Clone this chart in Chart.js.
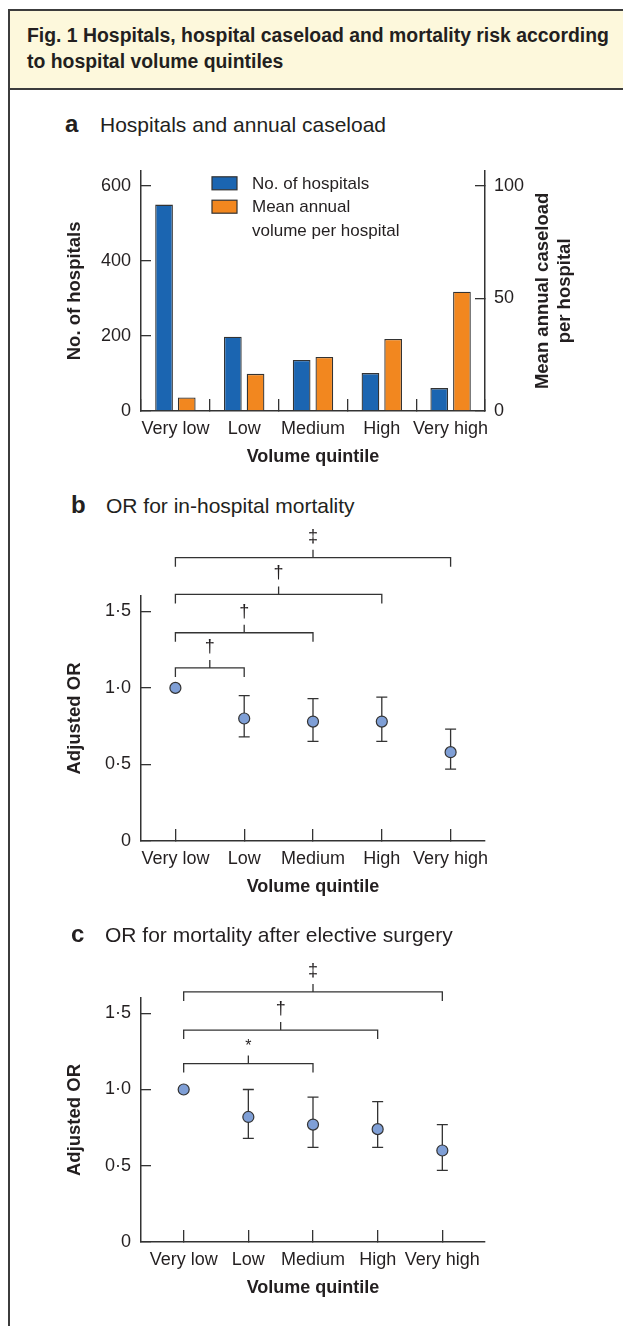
<!DOCTYPE html>
<html>
<head>
<meta charset="utf-8">
<title>Fig. 1 Hospital volume quintiles</title>
<script src="https://cdn.jsdelivr.net/npm/chart.js@4.4.1/dist/chart.umd.min.js"></script>
<style>
    html, body { margin: 0; padding: 0; background: #fff; }
    body {
        width: 623px; height: 1326px; position: relative; overflow: hidden;
        font-family: "Liberation Sans", Arial, sans-serif; color: #231f20;
    }
    .frame {
        position: absolute; left: 8px; top: 9px; width: 700px; height: 1400px;
        border: 2px solid #3c3c3c; box-sizing: border-box;
    }
    .head {
        position: absolute; left: 8px; top: 9px; width: 700px; height: 81px;
        background: #fdf8dc; border: 2px solid #3c3c3c; box-sizing: border-box;
    }
    .head-line {
        position: absolute; left: 27px; font-weight: bold; font-size: 19.4px;
        line-height: 1; white-space: nowrap;
    }
    .letter { position: absolute; font-weight: bold; font-size: 24px; line-height: 1; }
    .ptitle { position: absolute; font-size: 21px; line-height: 1; white-space: nowrap; }
    canvas { position: absolute; left: 0; }
</style>
</head>
<body>
<div class="frame"></div>
<div class="head"></div>
<div class="head-line" style="top:25.5px">Fig. 1 Hospitals, hospital caseload and mortality risk according</div>
<div class="head-line" style="top:51.5px">to hospital volume quintiles</div>

<canvas id="chartA" width="623" height="341" style="top:140px"></canvas>
<canvas id="chartB" width="623" height="391" style="top:520px"></canvas>
<canvas id="chartC" width="623" height="372" style="top:940px"></canvas>

<div class="letter" style="left:65px;top:112px">a</div>
<div class="ptitle" style="left:100px;top:114px">Hospitals and annual caseload</div>
<div class="letter" style="left:71px;top:493px">b</div>
<div class="ptitle" style="left:106px;top:495px">OR for in-hospital mortality</div>
<div class="letter" style="left:71px;top:922px">c</div>
<div class="ptitle" style="left:105px;top:924px">OR for mortality after elective surgery</div>

<script>
// ---- data ----
const quintiles = ['Very low', 'Low', 'Medium', 'High', 'Very high'];

const hospitalCounts = [550, 198, 136, 101, 61];
const meanVolumes = [6, 16.5, 24, 32, 53];
const hospitalTicks = [0, 200, 400, 600];
const volumeTicks = [0, 50, 100];
const legendLabels = [['No. of hospitals'], ['Mean annual', 'volume per hospital']];

const orTicks = [0, 0.5, 1.0, 1.5];

const inHospitalOR = [1.0, 0.80, 0.78, 0.78, 0.58];
const inHospitalLow = [null, 0.68, 0.65, 0.65, 0.47];
const inHospitalHigh = [null, 0.95, 0.93, 0.94, 0.73];
const inHospitalPairs = [1, 2, 3, 4];          // each compared with 'Very low'
const inHospitalLevels = [1.13, 1.36, 1.61, 1.85];
const inHospitalMarks = ['\u2020', '\u2020', '\u2020', '\u2021'];

const electiveOR = [1.0, 0.82, 0.77, 0.74, 0.60];
const electiveLow = [null, 0.68, 0.62, 0.62, 0.47];
const electiveHigh = [null, 1.00, 0.95, 0.92, 0.77];
const electivePairs = [2, 3, 4];
const electiveLevels = [1.17, 1.39, 1.64];
const electiveMarks = ['*', '\u2020', '\u2021'];

// ---- style ----
const FONT = '"Liberation Sans", Arial, sans-serif';
const INK = '#231f20';
const AXIS = '#333333';
const BLUE = '#1b65b1';
const ORANGE = '#f2871f';
const DOT = '#7f9fd6';

Chart.defaults.font.family = FONT;
Chart.defaults.font.size = 18;
Chart.defaults.color = INK;

const fixTicks = values => scale => { scale.ticks = values.map(v => ({ value: v })); };
const orLabel = v => v === 0 ? '0' : v.toFixed(1).replace('.', '\u00b7');

function gridOpts(len) {
    return { drawOnChartArea: false, tickLength: len, color: AXIS, lineWidth: 1.3 };
}
const borderOpts = { color: AXIS, width: 1.5 };

function xTitle() {
    return { display: true, text: 'Volume quintile', font: { size: 18, weight: 'bold' }, padding: { top: 0, bottom: 13 } };
}
function yTitle(text) {
    return { display: true, text: text, font: { size: 18.5, weight: 'bold' }, padding: { top: 64, bottom: 0 } };
}

// legend with boxes and wrapped labels
const boxLegend = {
    id: 'boxLegend',
    afterDraw(chart) {
        const { ctx, chartArea } = chart;
        const lineH = 23.4;
        const bx = chartArea.left + 71;
        let base = chartArea.top + 18;
        ctx.save();
        ctx.font = '17px ' + FONT;
        ctx.textBaseline = 'alphabetic';
        chart.data.datasets.forEach((ds, i) => {
            ctx.fillStyle = ds.backgroundColor;
            ctx.fillRect(bx, base - 12, 25, 13);
            ctx.strokeStyle = ds.borderColor;
            ctx.lineWidth = 1.2;
            ctx.strokeRect(bx, base - 12, 25, 13);
            ctx.fillStyle = INK;
            legendLabels[i].forEach((line, j) => ctx.fillText(line, bx + 40, base + j * lineH));
            base += legendLabels[i].length * lineH;
        });
        ctx.restore();
    }
};

// right axis title reading upwards, two lines
const rightTitle = {
    id: 'rightTitle',
    afterDraw(chart) {
        const { ctx, chartArea } = chart;
        const cy = (chartArea.top + chartArea.bottom) / 2;
        ctx.save();
        ctx.font = 'bold 18.5px ' + FONT;
        ctx.fillStyle = INK;
        ctx.textAlign = 'center';
        ctx.textBaseline = 'middle';
        [['Mean annual caseload', 58], ['per hospital', 80]].forEach(([txt, dx]) => {
            ctx.save();
            ctx.translate(chartArea.right + dx, cy);
            ctx.rotate(-Math.PI / 2);
            ctx.fillText(txt, 0, 0);
            ctx.restore();
        });
        ctx.restore();
    }
};

function errorBars(low, high) {
    return {
        id: 'errorBars',
        beforeDatasetsDraw(chart) {
            const { ctx, scales: { x, y } } = chart;
            ctx.save();
            ctx.strokeStyle = AXIS;
            ctx.lineWidth = 1.3;
            low.forEach((lo, i) => {
                if (lo === null) return;
                const px = x.getPixelForValue(i);
                const y0 = y.getPixelForValue(lo);
                const y1 = y.getPixelForValue(high[i]);
                ctx.beginPath();
                ctx.moveTo(px, y0); ctx.lineTo(px, y1);
                ctx.moveTo(px - 5.5, y0); ctx.lineTo(px + 5.5, y0);
                ctx.moveTo(px - 5.5, y1); ctx.lineTo(px + 5.5, y1);
                ctx.stroke();
            });
            ctx.restore();
        }
    };
}

// significance brackets from 'Very low' to each compared quintile
function brackets(pairs, levels, marks) {
    return {
        id: 'brackets',
        afterDatasetsDraw(chart) {
            const { ctx, scales: { x, y } } = chart;
            ctx.save();
            ctx.strokeStyle = AXIS;
            ctx.fillStyle = INK;
            ctx.lineWidth = 1.3;
            ctx.textAlign = 'center';
            ctx.textBaseline = 'middle';
            pairs.forEach((to, i) => {
                const x0 = x.getPixelForValue(0);
                const x1 = x.getPixelForValue(to);
                const xm = (x0 + x1) / 2;
                const py = y.getPixelForValue(levels[i]);
                ctx.beginPath();
                ctx.moveTo(x0, py + 9); ctx.lineTo(x0, py); ctx.lineTo(x1, py); ctx.lineTo(x1, py + 9);
                ctx.moveTo(xm, py); ctx.lineTo(xm, py - 8);
                ctx.stroke();
                if (marks[i] === '*') {
                    ctx.font = '16px ' + FONT;
                    ctx.fillText(marks[i], xm, py - 17);
                } else {
                    ctx.font = '18px ' + FONT;
                    ctx.fillText(marks[i], xm, py - 21);
                }
            });
            ctx.restore();
        }
    };
}

// ---- panel a ----
new Chart(document.getElementById('chartA'), {
    type: 'bar',
    data: {
        labels: quintiles,
        datasets: [{
            label: legendLabels[0].join(' '),
            data: hospitalCounts,
            yAxisID: 'y',
            backgroundColor: BLUE,
            borderColor: AXIS,
            borderWidth: 1.3,
            categoryPercentage: 0.66,
            barPercentage: 0.78
        }, {
            label: legendLabels[1].join(' '),
            data: meanVolumes,
            yAxisID: 'y1',
            backgroundColor: ORANGE,
            borderColor: AXIS,
            borderWidth: 1.3,
            categoryPercentage: 0.66,
            barPercentage: 0.78
        }]
    },
    options: {
        responsive: false,
        animation: false,
        layout: { padding: { top: 27, left: 0, right: 0, bottom: 0 } },
        plugins: { legend: { display: false }, tooltip: { enabled: false } },
        scales: {
            x: {
                type: 'category',
                offset: true,
                grid: Object.assign(gridOpts(-12), { offset: true }),
                border: borderOpts,
                ticks: { padding: 19.5, maxRotation: 0, autoSkip: false },
                title: xTitle(),
                afterFit: s => { s.height = 70; }
            },
            y: {
                position: 'left',
                min: 0,
                max: 640,
                afterBuildTicks: fixTicks(hospitalTicks),
                grid: gridOpts(-10),
                border: borderOpts,
                ticks: { padding: 20 },
                title: yTitle('No. of hospitals'),
                afterFit: s => { s.width = 141; }
            },
            y1: {
                position: 'right',
                min: 0,
                max: 640 * volumeTicks[volumeTicks.length - 1] / hospitalTicks[hospitalTicks.length - 1],
                afterBuildTicks: fixTicks(volumeTicks),
                grid: gridOpts(-10),
                border: borderOpts,
                ticks: { padding: 19 },
                afterFit: s => { s.width = 138; }
            }
        }
    },
    plugins: [boxLegend, rightTitle]
});

// ---- panels b and c ----
function orChart(id, values, low, high, pairs, levels, marks, xPad, topPad) {
    return new Chart(document.getElementById(id), {
        type: 'scatter',
        data: {
            datasets: [{
                data: values.map((v, i) => ({ x: i, y: v })),
                pointRadius: 5.5,
                pointBackgroundColor: DOT,
                pointBorderColor: AXIS,
                pointBorderWidth: 1.2
            }]
        },
        options: {
            responsive: false,
            animation: false,
            layout: { padding: { top: topPad, left: 0, right: 138, bottom: 0 } },
            plugins: { legend: { display: false }, tooltip: { enabled: false } },
            scales: {
                x: {
                    type: 'linear',
                    min: -xPad,
                    max: quintiles.length - 1 + xPad,
                    afterBuildTicks: fixTicks(quintiles.map((q, i) => i)),
                    grid: gridOpts(-12),
                    border: borderOpts,
                    ticks: { padding: 19.5, maxRotation: 0, autoSkip: false, callback: v => quintiles[v] },
                    title: xTitle(),
                    afterFit: s => { s.height = 70; }
                },
                y: {
                    min: 0,
                    max: 1.6,
                    afterBuildTicks: fixTicks(orTicks),
                    grid: gridOpts(-10),
                    border: borderOpts,
                    ticks: { padding: 20, callback: orLabel },
                    title: yTitle('Adjusted OR'),
                    afterFit: s => { s.width = 141; }
                }
            }
        },
        plugins: [errorBars(low, high), brackets(pairs, levels, marks)]
    });
}

orChart('chartB', inHospitalOR, inHospitalLow, inHospitalHigh,
    inHospitalPairs, inHospitalLevels, inHospitalMarks, 0.5, 76);
orChart('chartC', electiveOR, electiveLow, electiveHigh,
    electivePairs, electiveLevels, electiveMarks, 0.66, 58);
</script>
</body>
</html>
